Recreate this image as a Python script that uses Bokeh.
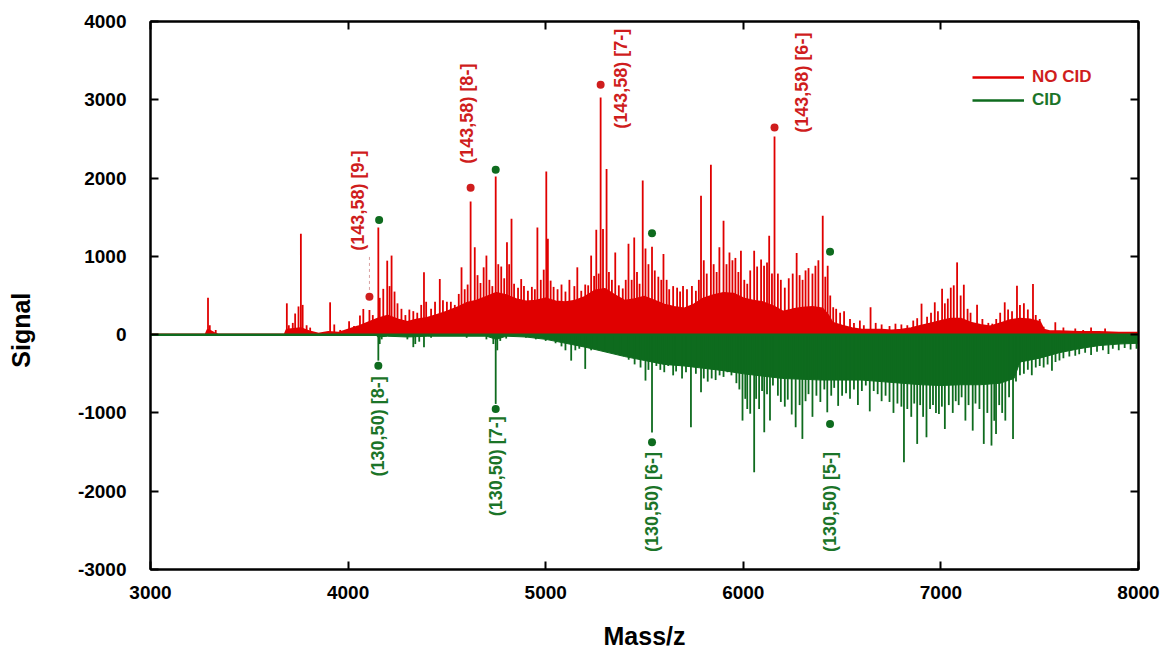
import math
from bokeh.plotting import figure
from bokeh.models import (Range1d, LinearAxis, FixedTicker, Legend, LegendItem)
from bokeh.core.properties import value
from bokeh.embed import file_html
from bokeh.resources import INLINE

# ---------------- data ----------------
x_ticks = [3000, 4000, 5000, 6000, 7000, 8000]
y_ticks = [-3000, -2000, -1000, 0, 1000, 2000, 3000, 4000]
x_lim = [3000, 8000]
y_lim = [-3000, 4000]

# NO CID: dense baseline level (envelope) and individual peaks
red_env_mz = [3000, 3280, 3290, 3320, 3340, 3680, 3690, 3760, 3800, 3850, 3900, 3950, 4000, 4050, 4100,
              4150, 4200, 4250, 4300, 4350, 4400, 4450, 4500, 4550, 4600, 4650, 4700, 4750, 4800, 4850,
              4900, 4950, 5000, 5050, 5100, 5150, 5200, 5250, 5300, 5350, 5400, 5450, 5500, 5550, 5600,
              5650, 5700, 5750, 5800, 5850, 5900, 5950, 6000, 6050, 6100, 6150, 6200, 6250, 6300, 6350,
              6400, 6430, 6450, 6500, 6550, 6600, 6650, 6700, 6750, 6800, 6850, 6900, 6950, 7000, 7050,
              7100, 7150, 7200, 7250, 7300, 7350, 7400, 7450, 7500, 7520, 7550, 7600, 7700, 7800, 7900, 8000]
red_env_lvl = [0, 0, 60, 20, 0, 0, 60, 80, 40, 10, 30, 20, 60, 100, 150,
               200, 240, 190, 160, 190, 210, 250, 290, 340, 400, 430, 480, 530, 500, 450,
               420, 430, 460, 420, 410, 430, 480, 560, 580, 500, 430, 450, 480, 430, 380,
               350, 330, 380, 460, 500, 530, 520, 460, 430, 410, 360, 290, 320, 340, 350,
               330, 240, 150, 110, 80, 60, 60, 60, 50, 60, 80, 110, 140, 170, 200,
               200, 150, 120, 100, 140, 180, 200, 190, 160, 60, 40, 40, 30, 30, 20, 20]

red_peak_mz = [3291, 3300, 3330, 3690, 3700, 3720, 3732, 3749, 3761, 3770, 3790, 3808, 3909, 3930, 3960,
               4005, 4030, 4060, 4077, 4108, 4125, 4153, 4160, 4178, 4198, 4210, 4220, 4235, 4250, 4270,
               4290, 4310, 4330, 4350, 4370, 4384, 4395, 4420, 4440, 4464, 4480, 4500, 4520, 4540, 4560,
               4574, 4590, 4605, 4620, 4641, 4655, 4670, 4686, 4700, 4715, 4730, 4747, 4760, 4775, 4790,
               4804, 4815, 4827, 4840, 4860, 4876, 4890, 4910, 4930, 4945, 4958, 4975, 4990, 5003, 5011,
               5025, 5040, 5060, 5080, 5100, 5120, 5145, 5160, 5180, 5200, 5215, 5230, 5245, 5256, 5268,
               5278, 5290, 5308, 5320, 5335, 5352, 5370, 5390, 5405, 5419, 5435, 5448, 5462, 5475, 5491,
               5505, 5520, 5538, 5552, 5570, 5585, 5596, 5612, 5625, 5645, 5665, 5680, 5695, 5715, 5740,
               5760, 5775, 5786, 5800, 5815, 5836, 5850, 5865, 5879, 5900, 5915, 5930, 5945, 5960, 5975,
               5988, 6005, 6020, 6035, 6055, 6070, 6090, 6105, 6120, 6131, 6145, 6158, 6175, 6190, 6210,
               6230, 6250, 6270, 6285, 6300, 6315, 6330, 6350, 6365, 6380, 6402, 6415, 6427, 6440, 6455,
               6470, 6490, 6510, 6540, 6560, 6590, 6610, 6644, 6670, 6700, 6740, 6770, 6800, 6830, 6860,
               6880, 6902, 6930, 6950, 6969, 6985, 7006, 7020, 7035, 7050, 7065, 7082, 7100, 7116, 7135,
               7150, 7183, 7210, 7240, 7260, 7280, 7300, 7323, 7340, 7360, 7385, 7400, 7420, 7440, 7466,
               7480, 7500, 7520, 7579, 7620, 7680, 7720, 7760, 7831, 7900]
red_peak_h = [470, 120, 60, 400, 120, 150, 270, 360, 1290, 380, 120, 90, 413, 130, 60,
              170, 110, 243, 328, 315, 250, 1370, 470, 585, 945, 620, 1010, 550, 400, 330,
              250, 320, 300, 280, 380, 796, 420, 330, 420, 711, 440, 420, 420, 380, 520,
              860, 580, 640, 1700, 1115, 760, 660, 860, 1010, 700, 620, 2020, 900, 870, 720,
              1180, 900, 1480, 650, 600, 710, 620, 560, 610, 580, 1370, 700, 830, 2085, 1225,
              690, 610, 580, 640, 550, 700, 620, 860, 560, 640, 630, 1010, 750, 1340, 780,
              3030, 1350, 2115, 800, 700, 1050, 630, 590, 700, 1160, 700, 1240, 800, 650, 1970,
              1100, 900, 1124, 820, 740, 700, 1030, 700, 580, 620, 600, 550, 620, 580, 620,
              560, 700, 1775, 950, 780, 2170, 900, 800, 1115, 1456, 900, 1050, 950, 980, 800,
              1073, 700, 650, 820, 1073, 870, 960, 880, 920, 1264, 780, 2530, 780, 700, 600,
              720, 780, 1043, 760, 700, 820, 850, 780, 880, 950, 1520, 740, 880, 500, 350,
              330, 280, 300, 200, 150, 180, 120, 350, 150, 130, 110, 140, 130, 120, 180,
              210, 396, 230, 280, 413, 300, 587, 400, 460, 600, 630, 923, 500, 638, 330,
              280, 383, 200, 150, 140, 200, 280, 413, 320, 300, 626, 380, 400, 320, 647,
              250, 200, 100, 157, 90, 80, 60, 90, 80, 30]

# CID (drawn downward)
green_env_mz = [3000, 4140, 4150, 4200, 4300, 4400, 4700, 4750, 4800, 4900, 5000, 5100, 5200, 5300, 5400,
                5500, 5600, 5700, 5800, 5900, 6000, 6100, 6200, 6300, 6400, 6500, 6600, 6700, 6800, 6900,
                7000, 7100, 7200, 7300, 7370, 7400, 7500, 7600, 7700, 7800, 7900, 8000]
green_env_lvl = [0, 0, -30, -20, -30, -20, -20, -60, -20, -30, -60, -110, -160, -220, -280,
                 -330, -380, -400, -430, -460, -500, -530, -560, -570, -580, -580, -580, -600, -620, -640,
                 -650, -640, -640, -620, -560, -350, -300, -230, -180, -140, -120, -110]

green_peak_mz = [4153, 4160, 4170, 4300, 4330, 4340, 4360, 4384, 4420, 4600, 4700, 4735, 4747, 4755, 4770,
                 4800, 4900, 4950, 5000, 5050, 5080, 5100, 5129, 5150, 5170, 5200, 5230, 5260, 5300, 5340,
                 5380, 5420, 5450, 5480, 5505, 5520, 5538, 5560, 5580, 5600, 5620, 5645, 5660, 5690, 5710,
                 5735, 5760, 5786, 5800, 5820, 5840, 5860, 5880, 5900, 5920, 5940, 5965, 5980, 5996, 6010,
                 6020, 6035, 6055, 6065, 6080, 6095, 6106, 6120, 6135, 6150, 6175, 6190, 6210, 6225, 6245,
                 6265, 6285, 6299, 6315, 6330, 6350, 6370, 6390, 6410, 6425, 6445, 6460, 6480, 6500, 6520,
                 6540, 6560, 6580, 6600, 6620, 6640, 6660, 6680, 6700, 6720, 6740, 6760, 6780, 6800, 6813,
                 6830, 6850, 6865, 6880, 6895, 6910, 6927, 6945, 6960, 6975, 6990, 7005, 7020, 7040, 7060,
                 7075, 7090, 7105, 7124, 7140, 7161, 7175, 7195, 7217, 7235, 7256, 7270, 7279, 7295, 7310,
                 7326, 7345, 7365, 7380, 7400, 7420, 7440, 7460, 7480, 7500, 7520, 7540, 7562, 7580, 7600,
                 7620, 7650, 7680, 7700, 7730, 7760, 7790, 7820, 7848, 7870, 7900, 7930, 7960, 7990]
green_peak_h = [-332, -120, -60, -60, -160, -120, -90, -160, -40, -40, -60, -120, -885, -200, -80,
                -50, -40, -60, -80, -110, -150, -200, -332, -200, -180, -438, -200, -180, -220, -240,
                -270, -320, -380, -420, -587, -450, -1250, -400, -450, -480, -400, -520, -470, -560, -480,
                -1183, -500, -736, -560, -600, -560, -580, -520, -540, -480, -520, -620, -700, -1098, -820,
                -950, -1010, -1758, -820, -950, -720, -1247, -760, -1098, -650, -780, -860, -920, -830, -1020,
                -1183, -900, -1332, -850, -760, -1050, -780, -860, -700, -992, -780, -680, -910, -780, -750,
                -820, -700, -900, -720, -650, -980, -720, -760, -850, -780, -860, -1000, -880, -920, -1631,
                -950, -1050, -880, -1396, -900, -1050, -1311, -950, -900, -1000, -1013, -920, -1205, -900, -1000,
                -850, -900, -800, -1098, -900, -1226, -880, -950, -1396, -1000, -1417, -1100, -1268, -900, -1000,
                -1098, -800, -1332, -600, -520, -500, -450, -520, -420, -400, -420, -380, -460, -350, -330,
                -300, -280, -270, -250, -230, -260, -220, -200, -246, -180, -200, -170, -190, -180]

# peak markers and labels
red_dot_mz = [4108, 4620, 5278, 6158]
red_dot_val = [485, 1877, 3192, 2647]
red_lab_mz = [4050, 4603, 5382, 6299]
red_lab_val = [1073, 2184, 2630, 2580]
red_lab_txt = ["(143,58) [9-]", "(143,58) [8-]", "(143,58) [7-]", "(143,58) [6-]"]

green_dot_up_mz = [4157, 4747, 5538, 6439]
green_dot_up_val = [1465, 2107, 1294, 1060]
green_dot_dn_mz = [4153, 4747, 5538, 6439]
green_dot_dn_val = [-396, -949, -1375, -1141]
green_lab_mz = [4153, 4747, 5540, 6439]
green_lab_val = [-533, -1041, -1499, -1499]
green_lab_txt = ["(130,50) [8-]", "(130,50) [7-]", "(130,50) [6-]", "(130,50) [5-]"]

leader_mz = [4108]
leader_y0 = [571]
leader_y1 = [1016]

# ---------------- styles ----------------
RED = "#e00000"
RED_TXT = "#cf1d1d"
GREEN = "#0e6b1e"
GREEN_TXT = "#1b7428"
FONT = "Liberation Sans"

p = figure(width=1160, height=652, output_backend="svg", toolbar_location=None,
           x_range=Range1d(*x_lim), y_range=Range1d(*y_lim),
           min_border_left=150, min_border_top=21, min_border_right=22, min_border_bottom=83)
p.background_fill_color = "white"
p.border_fill_color = "white"
p.outline_line_color = "black"
p.outline_line_width = 2
p.xgrid.visible = False
p.ygrid.visible = False

# NO CID
p.varea(x=red_env_mz, y1=[0] * len(red_env_mz), y2=red_env_lvl, fill_color=RED)
red_line = p.line(red_env_mz, red_env_lvl, line_color=RED, line_width=2.5)
p.segment(x0=red_peak_mz, y0=[0] * len(red_peak_mz), x1=red_peak_mz, y1=red_peak_h,
          line_color=RED, line_width=1.8)

# CID
p.varea(x=green_env_mz, y1=[0] * len(green_env_mz), y2=green_env_lvl, fill_color=GREEN)
p.line(green_env_mz, green_env_lvl, line_color=GREEN, line_width=1)
p.segment(x0=green_peak_mz, y0=[0] * len(green_peak_mz), x1=green_peak_mz, y1=green_peak_h,
          line_color=GREEN, line_width=1.8)
green_base = p.line(x_lim, [0, 0], line_color=GREEN, line_width=2.5)

# leader line, dots, labels
p.segment(x0=leader_mz, y0=leader_y0, x1=leader_mz, y1=leader_y1,
          line_color="#d8a0a0", line_width=1, line_dash="3 3")
p.scatter(red_dot_mz, red_dot_val, size=8, fill_color=RED_TXT, line_color=None)
p.scatter(green_dot_up_mz, green_dot_up_val, size=8, fill_color=GREEN, line_color=None)
p.scatter(green_dot_dn_mz, green_dot_dn_val, size=8, fill_color=GREEN, line_color=None)

p.text(x=red_lab_mz, y=red_lab_val, text=red_lab_txt, angle=math.pi / 2,
       text_align="left", text_baseline="middle", text_color=RED_TXT,
       text_font=value(FONT), text_font_style="bold", text_font_size="18px")
p.text(x=green_lab_mz, y=green_lab_val, text=green_lab_txt, angle=math.pi / 2,
       text_align="right", text_baseline="middle", text_color=GREEN_TXT,
       text_font=value(FONT), text_font_style="bold", text_font_size="18px")

# axes
for ax in p.xaxis:
    ax.ticker = FixedTicker(ticks=x_ticks)
for ax in p.yaxis:
    ax.ticker = FixedTicker(ticks=y_ticks)
    ax.major_label_overrides = {t: str(t) for t in y_ticks}

for ax in list(p.xaxis) + list(p.yaxis):
    ax.major_tick_in = 8
    ax.major_tick_out = 0
    ax.minor_tick_line_color = None
    ax.major_tick_line_width = 2
    ax.axis_line_width = 2
    ax.major_label_text_font = FONT
    ax.major_label_text_font_style = "bold"
    ax.major_label_text_font_size = "19px"
    ax.major_label_text_color = "black"
    ax.axis_label_text_font = FONT
    ax.axis_label_text_font_style = "bold"
    ax.axis_label_text_font_size = "25px"
    ax.axis_label_text_color = "black"

p.xaxis.major_label_standoff = 16
p.yaxis.major_label_standoff = 24
p.xaxis.axis_label = "Mass/z"
p.xaxis.axis_label_standoff = 20
# trailing no-break spaces move the visible word below the frame centre, as in the original
p.yaxis.axis_label = "Signal" + "\u00a0" * 10
p.yaxis.axis_label_standoff = 40

top_ax = LinearAxis(ticker=FixedTicker(ticks=x_ticks), major_tick_in=8, major_tick_out=0,
                    major_tick_line_width=2, axis_line_width=2, minor_tick_line_color=None,
                    major_label_text_font_size="0px", major_label_text_color=None,
                    major_label_standoff=0)
right_ax = LinearAxis(ticker=FixedTicker(ticks=y_ticks), major_tick_in=8, major_tick_out=0,
                      major_tick_line_width=2, axis_line_width=2, minor_tick_line_color=None,
                      major_label_text_font_size="0px", major_label_text_color=None,
                      major_label_standoff=0)
p.add_layout(top_ax, "above")
p.add_layout(right_ax, "right")

# legends (separate ones so each label keeps its own colour)
leg1 = Legend(items=[LegendItem(label="NO CID", renderers=[red_line])], location=(822, 482),
              label_text_color=RED_TXT)
leg2 = Legend(items=[LegendItem(label="CID", renderers=[green_base])], location=(822, 459),
              label_text_color=GREEN_TXT)
for lg in (leg1, leg2):
    lg.padding = 0
    lg.margin = 0
    lg.spacing = 0
    lg.border_line_color = None
    lg.background_fill_alpha = 0
    lg.glyph_width = 52
    lg.glyph_height = 18
    lg.label_height = 18
    lg.label_standoff = 8
    lg.label_text_font = FONT
    lg.label_text_font_style = "bold"
    lg.label_text_font_size = "17px"
    p.add_layout(lg)

open("out.html", "w").write(file_html(p, INLINE))
